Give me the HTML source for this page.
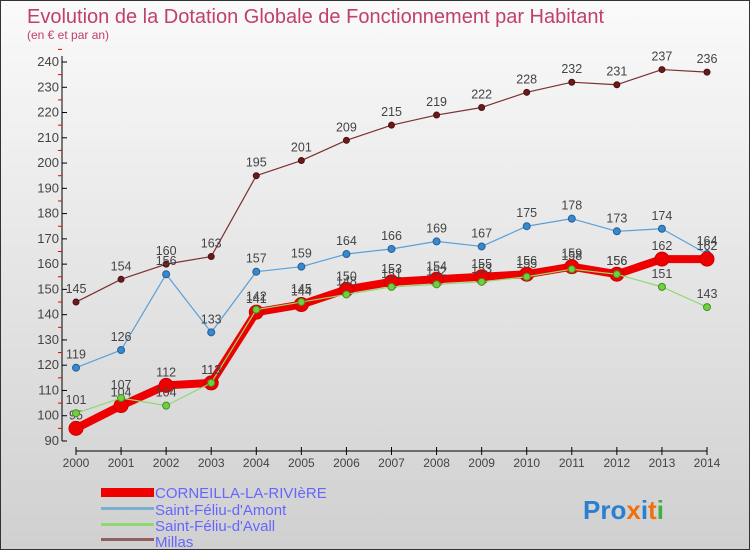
<!DOCTYPE html>
<html><head><meta charset="utf-8"><style>
body{margin:0}
#wrap{position:relative;width:748px;height:548px;border:1px solid #333;background:linear-gradient(#fafafa,#d0d0d0);font-family:"Liberation Sans",sans-serif;overflow:hidden}
</style></head><body>
<div id="wrap">
<svg id="svg" width="748" height="548" style="position:absolute;left:0;top:0">
<text x="26" y="22" font-size="20" fill="#c0406a">Evolution de la Dotation Globale de Fonctionnement par Habitant</text>
<text x="26" y="38" font-size="12" fill="#c0406a">(en € et par an)</text>
<g id="axes"></g><g id="series"></g>
<g>
<rect x="100" y="487" width="53" height="9" fill="#e00"/>
<text x="154" y="497" font-size="15" fill="#6666ff">CORNEILLA-LA-RIVIèRE</text>
<rect x="100" y="506" width="53" height="3" fill="#7aaed0"/>
<text x="154" y="514" font-size="15" fill="#6666ff">Saint-Féliu-d'Amont</text>
<rect x="100" y="522" width="53" height="3" fill="#90d870"/>
<text x="154" y="530" font-size="15" fill="#6666ff">Saint-Féliu-d'Avall</text>
<rect x="100" y="537" width="53" height="3" fill="#906060"/>
<text x="154" y="546" font-size="15" fill="#6666ff">Millas</text>
</g>
<text x="582" y="518" font-size="26" font-weight="bold"><tspan fill="#2a7fd0">Pro</tspan><tspan fill="#f07010">x</tspan><tspan fill="#2a7fd0">i</tspan><tspan fill="#f07010">t</tspan><tspan fill="#40b040">i</tspan></text>
</svg>
</div>
<script>
const years=[2000,2001,2002,2003,2004,2005,2006,2007,2008,2009,2010,2011,2012,2013,2014];
const corneilla=[95,104,112,113,141,144,150,153,154,155,156,159,156,162,162];
const amont=[119,126,156,133,157,159,164,166,169,167,175,178,173,174,164];
const avall=[101,107,104,113,142,145,148,151,152,153,155,158,156,151,143];
const millas=[145,154,160,163,195,201,209,215,219,222,228,232,231,237,236];
const yTicks=[90,100,110,120,130,140,150,160,170,180,190,200,210,220,230,240];
const NS="http://www.w3.org/2000/svg";
const xS=i=>75+i*(706-75)/(years.length-1);
const yS=v=>440-(v-90)*(440-61)/150;
function mk(t,a,p){const e=document.createElementNS(NS,t);for(const k in a)e.setAttribute(k,a[k]);p.appendChild(e);return e;}
const ax=document.getElementById('axes');
let yl=mk('line',{x1:61,y1:55,x2:61,y2:440,stroke:'#000'},ax);


yTicks.forEach(v=>{
 mk('line',{x1:61,y1:yS(v),x2:66,y2:yS(v),stroke:'#000'},ax);
 mk('line',{x1:57,y1:yS(v+5),x2:61,y2:yS(v+5),stroke:'#e00'},ax);
 const t=mk('text',{x:58,y:yS(v)+4,'text-anchor':'end','font-size':13,fill:'#444'},ax);t.textContent=v;
 
 
});
let xl=mk('line',{x1:75,y1:450,x2:706,y2:450,stroke:'#000'},ax);


years.forEach((y,i)=>{
 mk('line',{x1:xS(i),y1:446,x2:xS(i),y2:454,stroke:'#000'},ax);
 const t=mk('text',{x:xS(i),y:466,'text-anchor':'middle','font-size':12,fill:'#444'},ax);t.textContent=y;
 
 
});
const sg=document.getElementById('series');
function series(data,name,color,dot,w,r,stroke){
 const g=mk('g',{},sg);
 
 
 const pts=data.map((v,i)=>xS(i)+','+yS(v)).join(' ');
 mk('polyline',{points:pts,fill:'none',stroke:color,'stroke-width':w,'stroke-linejoin':'round'},g);
 data.forEach((v,i)=>{
  const c=mk('circle',{cx:xS(i),cy:yS(v),r:r,fill:dot,stroke:stroke,'stroke-width':1},g);
  
  
  const t=mk('text',{x:xS(i),y:yS(v)-9,'text-anchor':'middle','font-size':12.5,fill:'#444'},g);t.textContent=v;
  
  
 });
}
series(millas,'millas','#7a3030','#6a1a1a',1.2,3,'#4a1010');
series(amont,'amont','#5aa0d8','#3a88c8',1.2,3.5,'#2060a0');
series(corneilla,'corneilla','#ee0000','#ee0000',8,7,'#c00');
series(avall,'avall','#90d870','#70d040',1.2,3.5,'#409020');
</script>
</body></html>
